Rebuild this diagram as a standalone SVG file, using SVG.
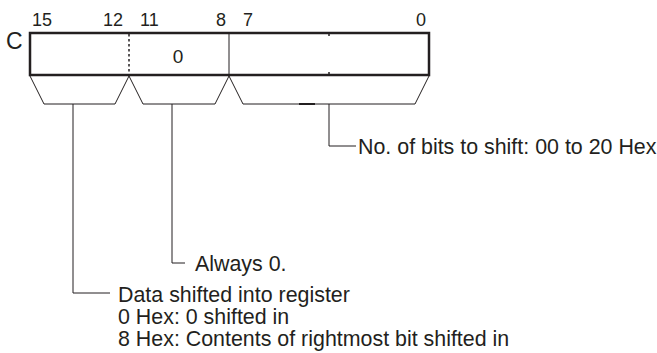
<svg xmlns="http://www.w3.org/2000/svg" width="657" height="353" viewBox="0 0 657 353">
<style>
text{font-family:"Liberation Sans",Arial,sans-serif;fill:#231f20}
.bit{font-size:18px}
.lbl{font-size:21.4px}
.thin{fill:none;stroke:#231f20;stroke-width:1}
.lead{fill:none;stroke:#231f20;stroke-width:1}
</style>
<rect width="657" height="353" fill="#fff"/>
<g id="register">
<text class="bit" x="32" y="26">15</text>
<text class="bit" x="103" y="26">12</text>
<text class="bit" x="140" y="26">11</text>
<text class="bit" x="216" y="26">8</text>
<text class="bit" x="243" y="26">7</text>
<text class="bit" x="416" y="26">0</text>
<text x="6" y="49" style="font-size:23px">C</text>
<rect x="30" y="33" width="399" height="42" fill="#fff" stroke="#231f20" stroke-width="2.5"/>
<line x1="129" y1="34" x2="129" y2="74" stroke="#231f20" stroke-width="1.5" stroke-dasharray="2.5,2.5"/>
<line x1="229" y1="34" x2="229" y2="74" stroke="#231f20" stroke-width="1"/>
<line x1="329" y1="34" x2="329" y2="36" stroke="#231f20" stroke-width="1.5"/>
<line x1="329" y1="72" x2="329" y2="74" stroke="#231f20" stroke-width="1.5"/>
<text x="178" y="63" text-anchor="middle" style="font-size:19px">0</text>
</g>
<g id="brackets">
<polyline class="thin" points="30,76 44,104 115,104 129,76"/>
<polyline class="thin" points="129,76 143,104 215,104 229,76"/>
<polyline class="thin" points="229,76 243,104 415,104 429,76"/>
<line x1="299" y1="104" x2="315" y2="104" stroke="#231f20" stroke-width="2"/>
</g>
<g id="connectors">
<polyline class="lead" points="329,104 329,146 356,146"/>
<polyline class="lead" points="172,104 172,263 185,263"/>
<polyline class="lead" points="73,104 73,293 110,293"/>
</g>
<g id="label-bits">
<text class="lbl" x="358" y="154">No. of bits to shift: 00 to 20 Hex</text>
</g>
<g id="label-always">
<text class="lbl" x="195" y="271">Always 0.</text>
</g>
<g id="label-data">
<text class="lbl" x="118" y="302">Data shifted into register</text>
<text class="lbl" x="118" y="324">0 Hex: 0 shifted in</text>
<text class="lbl" x="118" y="346">8 Hex: Contents of rightmost bit shifted in</text>
</g>
</svg>
